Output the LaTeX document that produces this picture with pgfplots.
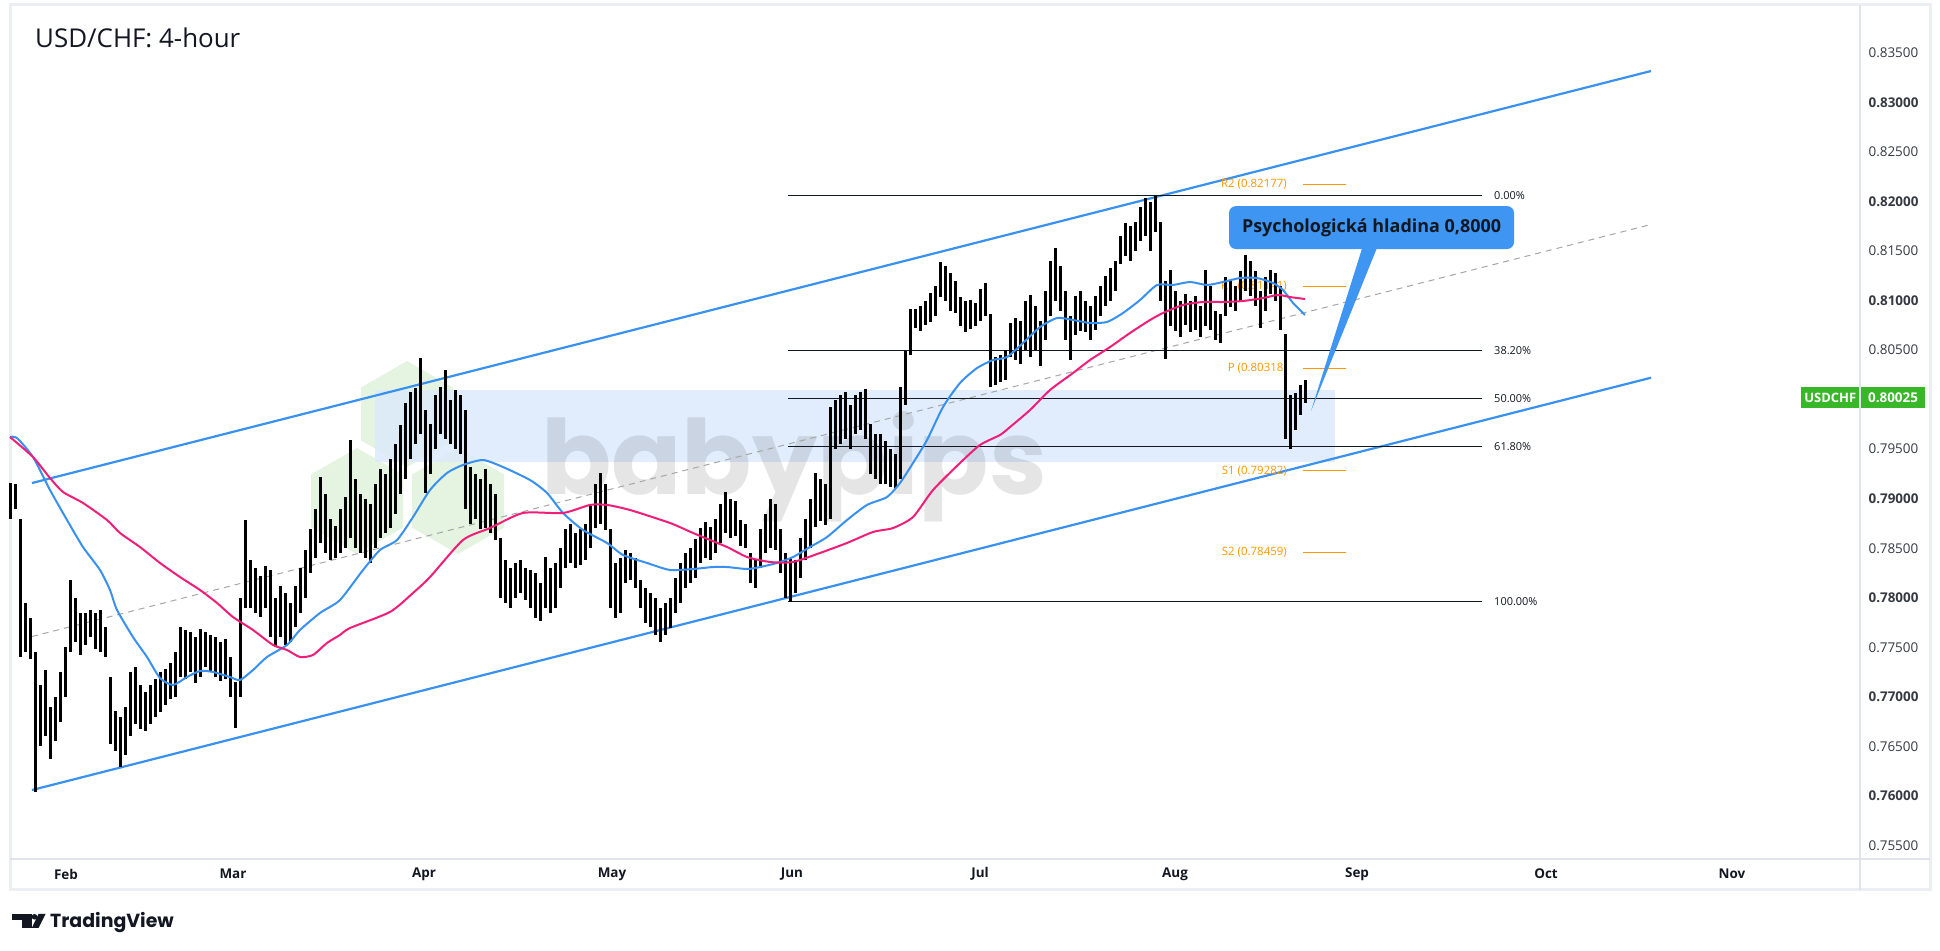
\documentclass[border=0pt]{standalone}
\usepackage{fontspec}
\setmainfont{Open Sans}
\newfontfamily\popfont{Poppins}
\usepackage{pgfplots}
\pgfplotsset{compat=1.18}
\usepackage{pgfplotstable}
\definecolor{chblue}{RGB}{56,145,240}
\definecolor{mapink}{RGB}{240,30,120}
\definecolor{rectblue}{RGB}{218,233,252}
\definecolor{hexgreen}{RGB}{228,244,224}
\definecolor{pivot}{RGB}{255,152,0}
\definecolor{tvgreen}{RGB}{56,184,40}
\definecolor{framec}{RGB}{224,227,235}
\definecolor{txt}{RGB}{19,23,34}
\definecolor{callout}{RGB}{62,150,242}

\pgfplotstableread{
x l h
10 0.7880 0.7916
15 0.7890 0.7915
20 0.7740 0.7880
25 0.7745 0.7795
30 0.7738 0.7780
35 0.7604 0.7745
40 0.7650 0.7712
45 0.7660 0.7727
50 0.7637 0.7690
55 0.7655 0.7700
60 0.7675 0.7725
65 0.7700 0.7750
70 0.7745 0.7818
75 0.7755 0.7800
80 0.7742 0.7785
85 0.7752 0.7785
90 0.7760 0.7788
95 0.7748 0.7785
100 0.7745 0.7788
105 0.7740 0.7770
110 0.7652 0.7720
115 0.7645 0.7686
120 0.7629 0.7680
125 0.7641 0.7690
130 0.7660 0.7725
135 0.7672 0.7730
140 0.7667 0.7712
145 0.7665 0.7705
150 0.7672 0.7712
155 0.7680 0.7718
160 0.7685 0.7725
165 0.7692 0.7728
170 0.7698 0.7734
175 0.7700 0.7745
180 0.7720 0.7771
185 0.7718 0.7768
190 0.7725 0.7765
195 0.7714 0.7760
200 0.7720 0.7768
205 0.7730 0.7765
210 0.7725 0.7762
215 0.7720 0.7760
220 0.7716 0.7755
225 0.7718 0.7758
230 0.7700 0.7740
235 0.7668 0.7715
240 0.7700 0.7800
245 0.7790 0.7879
250 0.7790 0.7838
255 0.7785 0.7830
260 0.7781 0.7822
265 0.7790 0.7832
270 0.7760 0.7828
275 0.7750 0.7800
280 0.7760 0.7812
285 0.7752 0.7805
290 0.7755 0.7795
295 0.7770 0.7812
300 0.7785 0.7830
305 0.7800 0.7848
310 0.7825 0.7870
315 0.7840 0.7890
320 0.7855 0.7922
325 0.7845 0.7905
330 0.7838 0.7880
335 0.7840 0.7872
340 0.7845 0.7890
345 0.7850 0.7902
350 0.7860 0.7959
355 0.7850 0.7920
360 0.7845 0.7905
365 0.7840 0.7900
370 0.7835 0.7895
375 0.7850 0.7915
380 0.7860 0.7930
385 0.7865 0.7925
390 0.7870 0.7940
395 0.7885 0.7955
400 0.7905 0.7975
405 0.7920 0.7997
410 0.7940 0.8008
415 0.7955 0.8012
420 0.7965 0.8042
425 0.7906 0.7990
430 0.7925 0.7975
435 0.7950 0.8005
440 0.7965 0.8013
445 0.7960 0.8030
450 0.7955 0.8000
455 0.7950 0.8010
460 0.7945 0.8005
465 0.7890 0.7990
470 0.7875 0.7932
475 0.7880 0.7925
480 0.7870 0.7920
485 0.7870 0.7930
490 0.7865 0.7915
495 0.7858 0.7905
500 0.7800 0.7860
505 0.7795 0.7838
510 0.7790 0.7830
515 0.7800 0.7835
520 0.7805 0.7838
525 0.7798 0.7830
530 0.7790 0.7828
535 0.7780 0.7825
540 0.7777 0.7815
545 0.7790 0.7841
550 0.7785 0.7830
555 0.7790 0.7835
560 0.7810 0.7850
565 0.7830 0.7870
570 0.7835 0.7875
575 0.7830 0.7865
580 0.7833 0.7870
585 0.7838 0.7875
590 0.7850 0.7895
595 0.7870 0.7915
600 0.7875 0.7926
605 0.7868 0.7915
610 0.7790 0.7870
615 0.7780 0.7835
620 0.7785 0.7840
625 0.7815 0.7848
630 0.7818 0.7845
635 0.7810 0.7840
640 0.7790 0.7818
645 0.7775 0.7810
650 0.7770 0.7805
655 0.7762 0.7800
660 0.7755 0.7790
665 0.7762 0.7795
670 0.7770 0.7800
675 0.7785 0.7820
680 0.7795 0.7835
685 0.7810 0.7845
690 0.7815 0.7850
695 0.7820 0.7859
700 0.7835 0.7870
705 0.7840 0.7877
710 0.7838 0.7872
715 0.7845 0.7880
720 0.7855 0.7895
725 0.7865 0.7907
730 0.7860 0.7900
735 0.7862 0.7898
740 0.7852 0.7878
745 0.7850 0.7875
750 0.7815 0.7845
755 0.7810 0.7838
760 0.7830 0.7870
765 0.7845 0.7885
770 0.7850 0.7900
775 0.7848 0.7895
780 0.7825 0.7870
785 0.7800 0.7845
790 0.7796 0.7840
795 0.7805 0.7838
800 0.7820 0.7860
805 0.7838 0.7880
810 0.7850 0.7900
815 0.7872 0.7926
820 0.7878 0.7920
825 0.7873 0.7915
830 0.7880 0.7993
835 0.7950 0.8000
840 0.7955 0.8005
845 0.7960 0.8008
850 0.7950 0.7995
855 0.7965 0.8005
860 0.7970 0.8008
865 0.7960 0.8011
870 0.7925 0.7975
875 0.7920 0.7965
880 0.7915 0.7965
885 0.7915 0.7958
890 0.7912 0.7950
895 0.7911 0.7945
900 0.7920 0.8013
905 0.7995 0.8049
910 0.8045 0.8092
915 0.8072 0.8092
920 0.8070 0.8095
925 0.8075 0.8100
930 0.8078 0.8108
935 0.8085 0.8115
940 0.8104 0.8139
945 0.8100 0.8135
950 0.8090 0.8128
955 0.8088 0.8120
960 0.8075 0.8104
965 0.8068 0.8100
970 0.8071 0.8101
975 0.8075 0.8098
980 0.8080 0.8112
985 0.8085 0.8118
990 0.8013 0.8087
995 0.8015 0.8043
1000 0.8018 0.8045
1005 0.8020 0.8050
1010 0.8043 0.8077
1015 0.8040 0.8083
1020 0.8036 0.8080
1025 0.8050 0.8100
1030 0.8043 0.8106
1035 0.8050 0.8095
1040 0.8034 0.8080
1045 0.8060 0.8110
1050 0.8085 0.8140
1055 0.8100 0.8153
1060 0.8090 0.8135
1065 0.8060 0.8110
1070 0.8040 0.8085
1075 0.8065 0.8105
1080 0.8070 0.8110
1085 0.8068 0.8100
1090 0.8060 0.8095
1095 0.8070 0.8105
1100 0.8085 0.8115
1105 0.8095 0.8125
1110 0.8100 0.8133
1115 0.8110 0.8140
1120 0.8137 0.8165
1125 0.8145 0.8178
1130 0.8140 0.8175
1135 0.8150 0.8180
1140 0.8160 0.8195
1145 0.8165 0.8204
1150 0.8150 0.8200
1155 0.8170 0.8206
1160 0.8100 0.8180
1165 0.8041 0.8120
1170 0.8075 0.8131
1175 0.8070 0.8110
1180 0.8063 0.8100
1185 0.8075 0.8107
1190 0.8068 0.8100
1195 0.8070 0.8105
1200 0.8063 0.8095
1205 0.8075 0.8131
1210 0.8070 0.8115
1215 0.8060 0.8090
1220 0.8057 0.8087
1225 0.8085 0.8124
1230 0.8094 0.8120
1235 0.8090 0.8115
1240 0.8100 0.8130
1245 0.8110 0.8146
1250 0.8105 0.8140
1255 0.8095 0.8130
1260 0.8073 0.8110
1265 0.8090 0.8124
1270 0.8107 0.8131
1275 0.8100 0.8128
1280 0.8070 0.8115
1285 0.7960 0.8066
1290 0.7950 0.8005
1295 0.7970 0.8007
1300 0.7985 0.8015
1305 0.7997 0.8020
}\candles

\pgfplotstableread{
x y
10 0.79623
17 0.79613
33 0.79421
50 0.79088
67 0.78785
83 0.78512
100 0.78280
110 0.78078
117 0.77876
133 0.77603
147 0.77401
160 0.77189
173 0.77119
187 0.77199
200 0.77260
213 0.77250
230 0.77199
240 0.77169
253 0.77270
267 0.77401
287 0.77523
300 0.77674
320 0.77846
340 0.77977
363 0.78280
380 0.78482
397 0.78583
413 0.78815
430 0.79088
447 0.79260
463 0.79341
483 0.79391
503 0.79320
530 0.79189
547 0.79058
563 0.78856
583 0.78684
607 0.78553
623 0.78432
647 0.78351
670 0.78280
693 0.78290
713 0.78310
727 0.78310
747 0.78290
760 0.78310
777 0.78351
793 0.78411
810 0.78512
827 0.78613
847 0.78785
867 0.78937
887 0.79017
900 0.79159
913 0.79361
927 0.79593
943 0.79926
960 0.80169
977 0.80320
993 0.80401
1007 0.80431
1023 0.80573
1040 0.80734
1057 0.80825
1073 0.80805
1090 0.80775
1107 0.80785
1123 0.80876
1140 0.81007
1157 0.81159
1173 0.81159
1190 0.81189
1207 0.81159
1223 0.81189
1240 0.81229
1257 0.81229
1273 0.81179
1283 0.81108
1293 0.80977
1305 0.80856
}\mablue

\pgfplotstableread{
x y
10 0.79623
33 0.79421
50 0.79209
63 0.79068
83 0.78957
107 0.78785
120 0.78654
140 0.78512
160 0.78351
180 0.78209
200 0.78078
217 0.77947
233 0.77805
253 0.77674
273 0.77523
287 0.77472
300 0.77401
313 0.77422
327 0.77543
340 0.77624
350 0.77694
390 0.77856
413 0.78048
430 0.78209
463 0.78583
490 0.78704
523 0.78856
563 0.78856
590 0.78937
607 0.78937
630 0.78886
670 0.78755
693 0.78654
727 0.78512
747 0.78411
770 0.78361
793 0.78361
820 0.78452
847 0.78553
873 0.78664
893 0.78704
913 0.78815
933 0.79088
960 0.79361
980 0.79543
1000 0.79644
1010 0.79724
1030 0.79896
1050 0.80098
1073 0.80270
1090 0.80401
1110 0.80532
1130 0.80674
1150 0.80805
1163 0.80876
1183 0.80957
1203 0.80987
1223 0.80987
1243 0.80997
1263 0.81027
1278 0.81058
1290 0.81037
1305 0.81017
}\mapink

\begin{document}
\begin{tikzpicture}[x=1bp,y=1bp]
\useasboundingbox (0,0) rectangle (1940,951);
\fill[white] (0,0) rectangle (1940,951);
% chart frame
\draw[framec!60, line width=3bp] (10,61) rectangle (1930,946);
\draw[framec, line width=1.2bp] (10,92) -- (1930,92);
\draw[framec, line width=1.2bp] (1860,61) -- (1860,946);
% title
\node[anchor=base west, inner sep=0, text=txt, font=\fontsize{26}{30}\selectfont] at (35,903) {USD/CHF: 4-hour};
% TradingView logo
\fill[txt] (12,31) rectangle (31.5,37);
\fill[txt] (22,23) rectangle (31.5,37);
\fill[txt] (34.5,34.2) circle (2.8);
\fill[txt] (38.5,37) -- (45.5,37) -- (38.5,23) -- (31.8,23) -- cycle;
\node[anchor=base west, inner sep=0, text=txt, font=\popfont\bfseries\fontsize{19}{22}\selectfont] at (50,23) {TradingView};

\begin{axis}[
  at={(10bp,946bp)}, anchor=north west,
  scale only axis, width=1850bp, height=854bp,
  xmin=10, xmax=1860, ymin=0.75361, ymax=0.83987,
  clip=false,
  axis line style={draw=none},
  tick style={draw=none},
  xtick={66,233,424,612,792,980,1175,1357,1546,1732},
  xticklabels={Feb,Mar,Apr,May,Jun,Jul,Aug,Sep,Oct,Nov},
  xticklabel style={anchor=center, yshift=-15bp, text=txt, font=\fontsize{13.5}{16}\selectfont\bfseries},
  ytick={0.755,0.760,0.765,0.770,0.775,0.780,0.785,0.790,0.795,0.805,0.810,0.815,0.820,0.825,0.830,0.835},
  yticklabels={\textnormal{0.75500},\textbf{0.76000},\textnormal{0.76500},\textbf{0.77000},\textnormal{0.77500},\textbf{0.78000},\textnormal{0.78500},\textbf{0.79000},\textnormal{0.79500},\textnormal{0.80500},\textbf{0.81000},\textnormal{0.81500},\textbf{0.82000},\textnormal{0.82500},\textbf{0.83000},\textnormal{0.83500}},
  yticklabel pos=right,
  yticklabel style={anchor=west, xshift=5bp, text=txt!85, font=\fontsize{13.5}{16}\selectfont},
]
% watermark hexagons
\fill[hexgreen] (axis cs:407,0.80391) -- (axis cs:453,0.80123) -- (axis cs:453,0.79588) -- (axis cs:407,0.79320) -- (axis cs:361,0.79588) -- (axis cs:361,0.80123) -- cycle;
\fill[hexgreen] (axis cs:357,0.79512) -- (axis cs:403,0.79245) -- (axis cs:403,0.78709) -- (axis cs:357,0.78442) -- (axis cs:311,0.78709) -- (axis cs:311,0.79245) -- cycle;
\fill[hexgreen] (axis cs:458,0.79512) -- (axis cs:504,0.79245) -- (axis cs:504,0.78709) -- (axis cs:458,0.78442) -- (axis cs:412,0.78709) -- (axis cs:412,0.79245) -- cycle;
% zone rectangle
\addplot[draw=none, fill=rectblue, fill opacity=0.8, forget plot] coordinates {(375,0.80098) (1335,0.80098) (1335,0.79374) (375,0.79374)} -- cycle;
% babypips watermark
\node[anchor=base, inner sep=0, text=black, text opacity=0.1, font=\popfont\bfseries\fontsize{104}{104}\selectfont] at (axis cs:794,0.79038) {babypips};
% channel
\addplot[chblue, line width=2.2bp] coordinates {(32,0.791586) (1651,0.833202)};
\addplot[chblue, line width=2.2bp] coordinates {(32,0.760576) (1651,0.802222)};
\addplot[gray!70, line width=1bp, dash pattern=on 6bp off 5bp] coordinates {(32,0.776081) (1651,0.81770)};
% fibonacci levels
\addplot[txt, line width=1bp] coordinates {(788,0.82058) (1482,0.82058)};
\addplot[txt, line width=1bp] coordinates {(788,0.80493) (1482,0.80493)};
\addplot[txt, line width=1bp] coordinates {(788,0.80009) (1482,0.80009)};
\addplot[txt, line width=1bp] coordinates {(788,0.79525) (1482,0.79525)};
\addplot[txt, line width=1bp] coordinates {(788,0.77960) (1482,0.77960)};
\node[anchor=west, inner sep=0, text=txt, font=\fontsize{11}{13}\selectfont] at (axis cs:1494,0.82058) {0.00\%};
\node[anchor=west, inner sep=0, text=txt, font=\fontsize{11}{13}\selectfont] at (axis cs:1494,0.80493) {38.20\%};
\node[anchor=west, inner sep=0, text=txt, font=\fontsize{11}{13}\selectfont] at (axis cs:1494,0.80009) {50.00\%};
\node[anchor=west, inner sep=0, text=txt, font=\fontsize{11}{13}\selectfont] at (axis cs:1494,0.79525) {61.80\%};
\node[anchor=west, inner sep=0, text=txt, font=\fontsize{11}{13}\selectfont] at (axis cs:1494,0.77960) {100.00\%};
% pivot points
\addplot[pivot, line width=1.2bp] coordinates {(1303,0.82177) (1346,0.82177)};
\addplot[pivot, line width=1.2bp] coordinates {(1303,0.81141) (1346,0.81141)};
\addplot[pivot, line width=1.2bp] coordinates {(1303,0.80318) (1346,0.80318)};
\addplot[pivot, line width=1.2bp] coordinates {(1303,0.79282) (1346,0.79282)};
\addplot[pivot, line width=1.2bp] coordinates {(1303,0.78459) (1346,0.78459)};
\node[anchor=east, inner sep=0, text=pivot, font=\fontsize{11.5}{13}\selectfont] at (axis cs:1287,0.82177) {R2 (0.82177)};
\node[anchor=east, inner sep=0, text=pivot, font=\fontsize{11.5}{13}\selectfont] at (axis cs:1287,0.81141) {R1 (0.81141)};
\node[anchor=east, inner sep=0, text=pivot, font=\fontsize{11.5}{13}\selectfont] at (axis cs:1287,0.80318) {P (0.80318)};
\node[anchor=east, inner sep=0, text=pivot, font=\fontsize{11.5}{13}\selectfont] at (axis cs:1287,0.79282) {S1 (0.79282)};
\node[anchor=east, inner sep=0, text=pivot, font=\fontsize{11.5}{13}\selectfont] at (axis cs:1287,0.78459) {S2 (0.78459)};
% candles (high-low)
\addplot[draw=none, mark=none, forget plot,
  error bars/.cd, y dir=both, y explicit, error mark=none,
  error bar style={draw=black, line width=3bp, solid}]
  table[x=x, y expr={(\thisrow{l}+\thisrow{h})/2}, y error expr={(\thisrow{h}-\thisrow{l})/2}] {\candles};
% moving averages
\addplot[chblue, line width=2bp, smooth, tension=0.4] table[x=x,y=y] {\mablue};
\addplot[mapink, line width=2bp, smooth, tension=0.4] table[x=x,y=y] {\mapink};
% callout
\fill[callout] (axis cs:1363,0.81560) -- (axis cs:1378,0.81560) -- (axis cs:1311,0.79886) -- cycle;
\fill[callout, rounded corners=7bp] (axis cs:1229,0.81956) rectangle (axis cs:1514,0.81522);
\node[text=txt, inner sep=0, font=\fontsize{18}{21}\selectfont\bfseries] at (axis cs:1371.5,0.81739) {Psychologická hladina 0,8000};
% last price label
\fill[tvgreen] (axis cs:1801,0.80128) rectangle (axis cs:1859.3,0.79916);
\fill[tvgreen] (axis cs:1861,0.80128) rectangle (axis cs:1925,0.79916);
\node[text=white, inner sep=0, font=\fontsize{13}{15}\selectfont\bfseries] at (axis cs:1830.2,0.80022) {USDCHF};
\node[text=white, inner sep=0, font=\fontsize{13.5}{15}\selectfont\bfseries] at (axis cs:1893,0.80022) {0.80025};
\end{axis}
\end{tikzpicture}
\end{document}
